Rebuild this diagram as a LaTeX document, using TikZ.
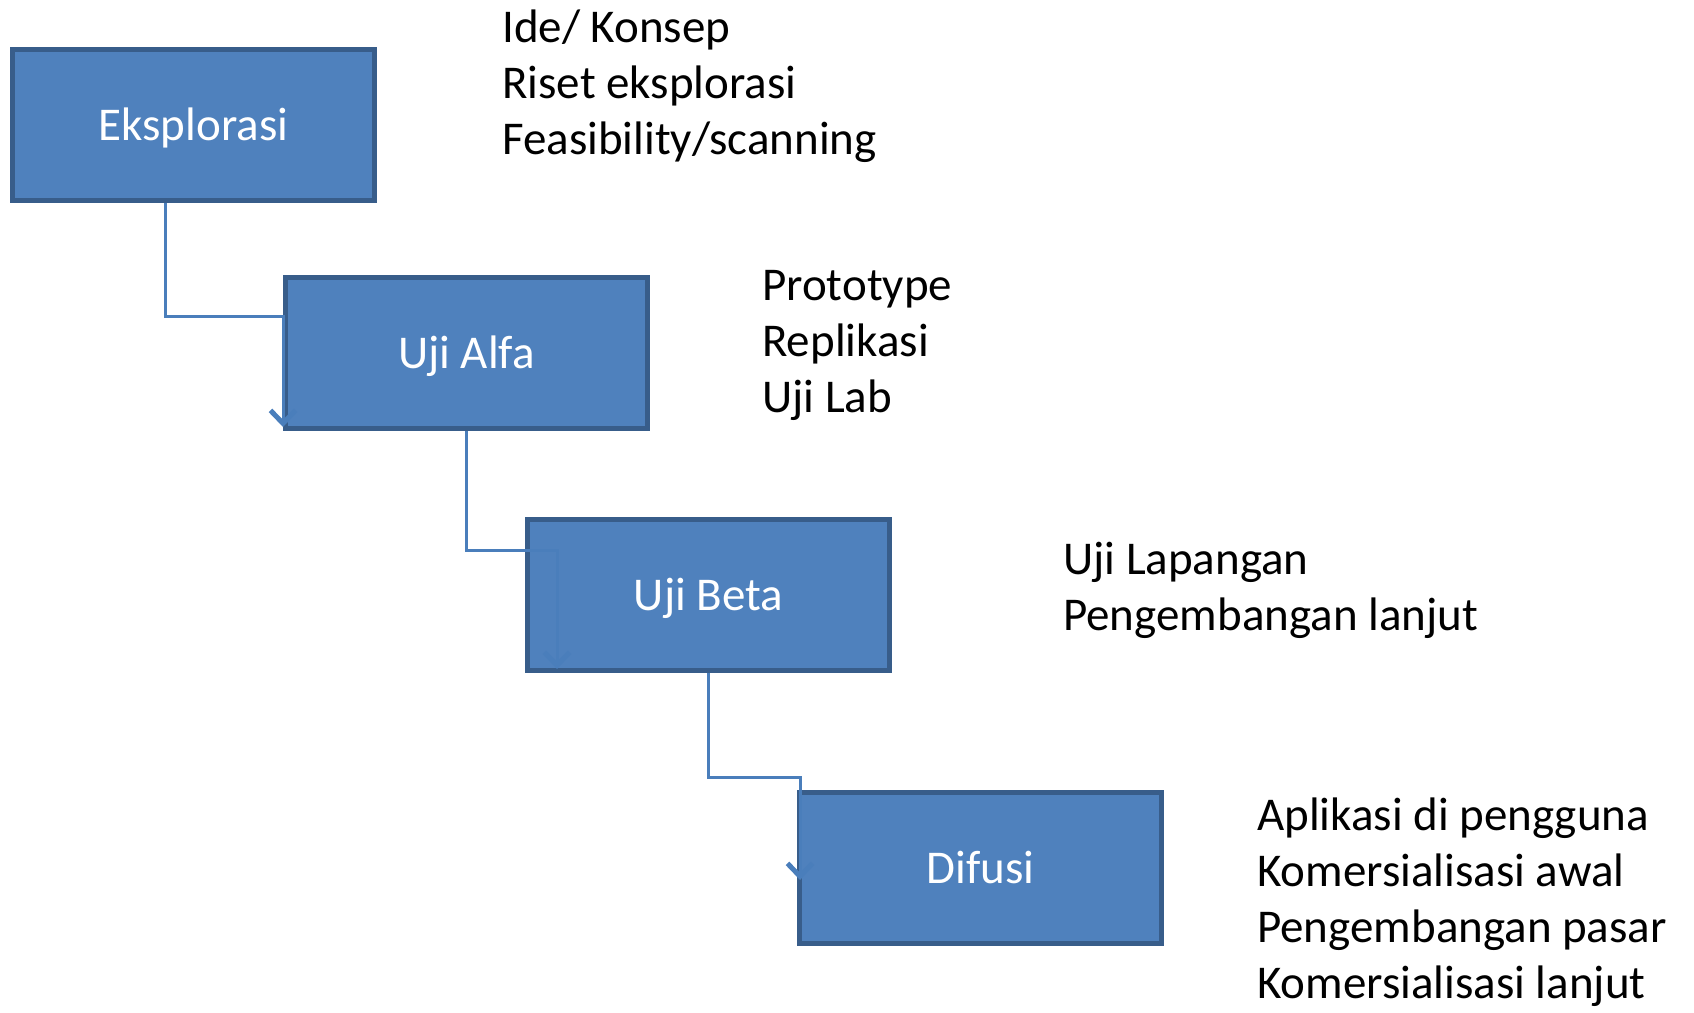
\documentclass[tikz,border=0pt]{standalone}
\usepackage{fontspec}
\setmainfont{Carlito}
\usetikzlibrary{arrows.meta}
\definecolor{boxfill}{HTML}{4F81BD}
\definecolor{boxline}{HTML}{385D8A}
\definecolor{connline}{HTML}{4A7EBB}
\begin{document}
\begin{tikzpicture}[x=1pt,y=-1pt,
  stage/.style={rectangle, draw=boxline, fill=boxfill, line width=5pt,
    minimum width=362pt, minimum height=151pt, inner sep=0pt,
    text=white, font=\fontsize{47pt}{56pt}\selectfont,
    text height=30pt, text depth=0pt},
  notes/.style={anchor=base west, align=left, inner sep=0pt, text=black,
    font=\fontsize{47pt}{56pt}\selectfont},
  conn/.style={draw=connline, line width=3pt,
    -{Straight Barb[length=13pt,width=25pt,line width=5pt]}}]
  \useasboundingbox (0,0) rectangle (1694,1012);

  % stages
  \node[stage] (e) at (193.5,125) {Eksplorasi};
  \node[stage] (a) at (466.5,353) {Uji Alfa};
  \node[stage] (b) at (708.5,595) {Uji Beta};
  \node[stage] (d) at (980.5,868) {Difusi};

  % elbow connectors between stages
  \draw[conn] (e.south -| 165,0) |- (a.west |- 0,316) -- (a.west |- 0,427);
  \draw[conn] (a.south) |- (557,550) -- (557,669);
  \draw[conn] (b.south) |- (800,777) -- (800,880);

  % activities of each stage (placed at the baseline of the last line)
  \node[notes] (n1) at (502,154) {Ide/ Konsep\\Riset eksplorasi\\Feasibility/scanning};
  \node[notes] (n2) at (762,412) {Prototype\\Replikasi\\Uji Lab};
  \node[notes] (n3) at (1063,630) {Uji Lapangan\\Pengembangan lanjut};
  \node[notes] (n4) at (1257,998) {Aplikasi di pengguna\\Komersialisasi awal\\Pengembangan pasar\\Komersialisasi lanjut};
\end{tikzpicture}
\end{document}
